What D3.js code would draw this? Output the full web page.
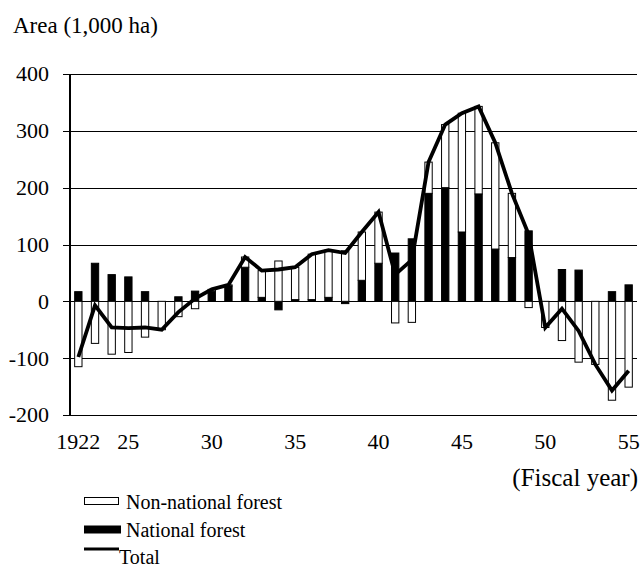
<!DOCTYPE html>
<html>
<head>
<meta charset="utf-8">
<script src="https://cdn.jsdelivr.net/npm/d3@7/dist/d3.min.js"></script>
<style>
  html, body { margin: 0; padding: 0; background: #fff; }
  svg { display: block; }
  text { font-family: "Liberation Serif", "Times New Roman", serif; fill: #000; }
</style>
</head>
<body>
<svg id="chart" width="642" height="568"></svg>
<script>
// Afforestation area change by fiscal year (1,000 ha)
const years = d3.range(1922, 1956);
const national = [17, 67, 47, 43, 17, 0, 8, 18,
  18, 27, 60, 7, -15, 3, 3, 7, -4, 37,
  67, 85, 110, 190, 200, 122, 189, 92, 77, 124,
  0, 56, 55, 0, 17, 29];
const nonNational = [-115, -74, -93, -90, -63, -50, -27, -13,
  3, 2, 18, 47, 71, 57, 80, 83, 89, 85,
  90, -38, -37, 55, 111, 209, 154, 187, 113, -11,
  -46, -69, -107, -111, -174, -151];
const total = [-98, -7, -46, -47, -46, -50, -19, 5,
  21, 29, 78, 54, 56, 60, 83, 90, 85, 122,
  157, 47, 73, 245, 311, 331, 343, 279, 190, 118,
  -46, -13, -52, -111, -157, -122];
const yTicks = [-200, -100, 0, 100, 200, 300, 400];
const xTickYears = [1922, 1925, 1930, 1935, 1940, 1945, 1950, 1955];
const xTickLabels = ["1922", "25", "30", "35", "40", "45", "50", "55"];

const rows = years.map((y, i) => ({ year: y, national: national[i], nonNational: nonNational[i], total: total[i] }));

const svg = d3.select("#chart");
const plotLeft = 70, plotRight = 637, plotTop = 74, plotBottom = 415;

const x = d3.scaleBand().domain(years).range([plotLeft, plotRight])
  .paddingInner(0.56).paddingOuter(0.28);
const y = d3.scaleLinear().domain([-200, 400]).range([plotBottom, plotTop]);

// horizontal gridlines, extending left of the axis as tick marks
svg.append("g").selectAll("line").data(yTicks).join("line")
  .attr("x1", plotLeft - 7).attr("x2", plotRight)
  .attr("y1", d => Math.round(y(d)) + 0.5).attr("y2", d => Math.round(y(d)) + 0.5)
  .attr("stroke", "#000").attr("stroke-width", 1);

// y tick labels
svg.append("g").selectAll("text").data(yTicks).join("text")
  .attr("x", 49).attr("y", d => y(d)).attr("dy", "0.34em")
  .attr("text-anchor", "end").attr("font-size", 22)
  .text(d => d);

// stacked bars, diverging around zero
const stack = d3.stack().keys(["national", "nonNational"]).offset(d3.stackOffsetDiverging);
const series = stack(rows);
const fills = { national: "#000", nonNational: "#fff" };

svg.append("g").selectAll("g").data(series).join("g")
  .attr("fill", s => fills[s.key])
  .attr("stroke", "#000").attr("stroke-width", 1)
  .selectAll("rect").data(s => s.filter(d => d[1] !== d[0])).join("rect")
  .attr("x", d => x(d.data.year))
  .attr("width", x.bandwidth())
  .attr("y", d => y(d[1]))
  .attr("height", d => y(d[0]) - y(d[1]));

// total line
const line = d3.line().x(d => x(d.year) + x.bandwidth() / 2).y(d => y(d.total));
svg.append("path").datum(rows)
  .attr("d", line).attr("fill", "none")
  .attr("stroke", "#000").attr("stroke-width", 3.8)
  .attr("stroke-linejoin", "miter");

// y axis line
svg.append("line").attr("x1", plotLeft).attr("x2", plotLeft)
  .attr("y1", plotTop).attr("y2", plotBottom)
  .attr("stroke", "#000").attr("stroke-width", 2);

// x tick labels
svg.append("g").selectAll("text").data(xTickYears).join("text")
  .attr("x", d => x(d) + x.bandwidth() / 2)
  .attr("y", 449)
  .attr("text-anchor", "middle").attr("font-size", 22)
  .text((d, i) => xTickLabels[i]);

// axis titles
svg.append("text").attr("x", 13).attr("y", 33).attr("font-size", 23).text("Area (1,000 ha)");
svg.append("text").attr("x", 638).attr("y", 486).attr("text-anchor", "end")
  .attr("font-size", 25).text("(Fiscal year)");

// legend
const lg = svg.append("g");
lg.append("rect").attr("x", 84.5).attr("y", 497.5).attr("width", 34).attr("height", 7)
  .attr("fill", "#fff").attr("stroke", "#000").attr("stroke-width", 1);
lg.append("text").attr("x", 126).attr("y", 509).attr("font-size", 20).text("Non-national forest");
lg.append("rect").attr("x", 84).attr("y", 525.5).attr("width", 37).attr("height", 8)
  .attr("fill", "#000");
lg.append("text").attr("x", 126).attr("y", 536.5).attr("font-size", 20).text("National forest");
lg.append("line").attr("x1", 84).attr("x2", 119).attr("y1", 549).attr("y2", 549)
  .attr("stroke", "#000").attr("stroke-width", 3);
lg.append("text").attr("x", 119).attr("y", 564).attr("font-size", 20).text("Total");
</script>
</body>
</html>
